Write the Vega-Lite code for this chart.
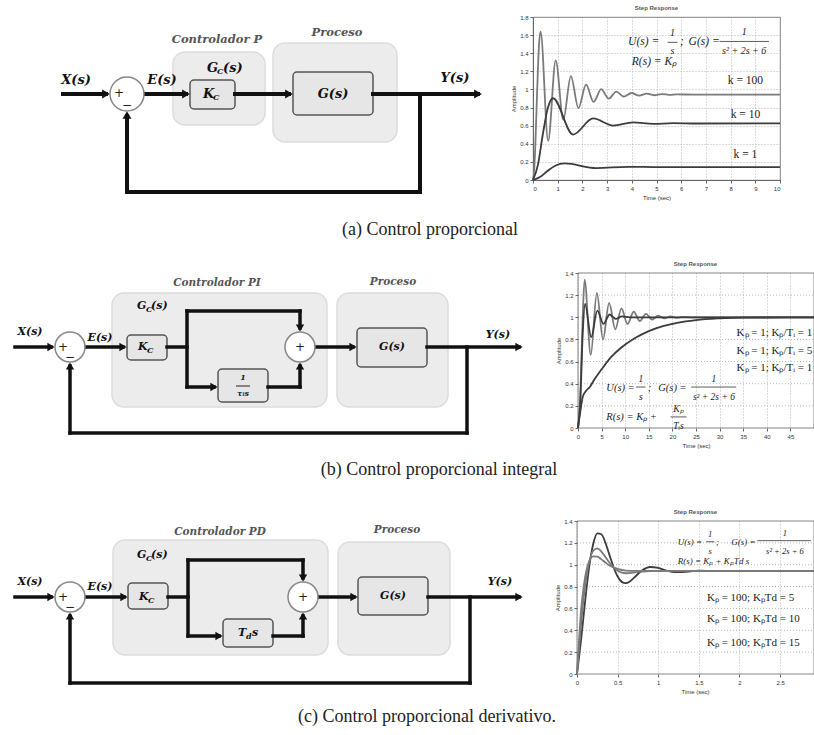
{
  "$schema": "https://vega.github.io/schema/vega-lite/v6.json",
  "padding": 0,
  "background": "white",
  "columns": 2,
  "spacing": {"row": 93, "column": 0},
  "bounds": "flush",
  "config": {
    "view": {"stroke": "#666", "strokeWidth": 0.8},
    "axis": {"labelFontSize": 6, "labelColor": "#333", "titleFontSize": 6, "titleFontWeight": "normal", "titleColor": "#333", "gridDash": [1, 2], "gridColor": "#999", "gridOpacity": 0.7, "domainColor": "#666", "tickColor": "#666", "tickSize": 3, "labelPadding": 2, "titlePadding": 3},
    "title": {"fontSize": 6, "fontWeight": "bold", "color": "#555", "offset": 3}
  },
  "datasets": {
    "diagram": [
      {"el": "pad", "row": "a", "x": 1, "y": 0.5, "x2": 1, "y2": 17},
      {"el": "grp", "row": "a", "x": 173, "y": 52, "x2": 265, "y2": 125},
      {"el": "grp", "row": "a", "x": 273, "y": 43, "x2": 397, "y2": 142},
      {"el": "grp", "row": "b", "x": 112, "y": 293, "x2": 327, "y2": 407},
      {"el": "grp", "row": "b", "x": 337, "y": 293, "x2": 448, "y2": 407},
      {"el": "grp", "row": "c", "x": 113, "y": 540, "x2": 328, "y2": 655},
      {"el": "grp", "row": "c", "x": 338, "y": 542, "x2": 450, "y2": 655},
      {"el": "blk", "row": "a", "x": 190, "y": 80, "x2": 235, "y2": 109},
      {"el": "blk", "row": "a", "x": 293, "y": 72, "x2": 373, "y2": 115},
      {"el": "blk", "row": "b", "x": 127, "y": 335, "x2": 167, "y2": 360},
      {"el": "blk", "row": "b", "x": 218, "y": 369, "x2": 268, "y2": 402},
      {"el": "blk", "row": "b", "x": 357, "y": 328, "x2": 427, "y2": 367},
      {"el": "blk", "row": "c", "x": 128, "y": 583, "x2": 168, "y2": 609},
      {"el": "blk", "row": "c", "x": 223, "y": 619, "x2": 273, "y2": 647},
      {"el": "blk", "row": "c", "x": 358, "y": 577, "x2": 428, "y2": 615},
      {"el": "wire", "row": "a", "x": 63, "y": 94, "x2": 106, "y2": 94},
      {"el": "wire", "row": "a", "x": 144, "y": 94, "x2": 186, "y2": 94},
      {"el": "wire", "row": "a", "x": 235, "y": 94, "x2": 289, "y2": 94},
      {"el": "wire", "row": "a", "x": 373, "y": 94, "x2": 478, "y2": 94},
      {"el": "wire", "row": "a", "x": 420, "y": 94, "x2": 420, "y2": 192},
      {"el": "wire", "row": "a", "x": 127, "y": 192, "x2": 420, "y2": 192},
      {"el": "wire", "row": "a", "x": 127, "y": 192, "x2": 127, "y2": 116},
      {"el": "wire", "row": "b", "x": 15, "y": 347, "x2": 51, "y2": 347},
      {"el": "wire", "row": "b", "x": 85, "y": 347, "x2": 123, "y2": 347},
      {"el": "wire", "row": "b", "x": 167, "y": 347, "x2": 187, "y2": 347},
      {"el": "wire", "row": "b", "x": 187, "y": 311, "x2": 187, "y2": 387},
      {"el": "wire", "row": "b", "x": 187, "y": 311, "x2": 300, "y2": 311},
      {"el": "wire", "row": "b", "x": 300, "y": 311, "x2": 300, "y2": 328},
      {"el": "wire", "row": "b", "x": 187, "y": 387, "x2": 214, "y2": 387},
      {"el": "wire", "row": "b", "x": 268, "y": 387, "x2": 300, "y2": 387},
      {"el": "wire", "row": "b", "x": 300, "y": 387, "x2": 300, "y2": 366},
      {"el": "wire", "row": "b", "x": 315, "y": 347, "x2": 353, "y2": 347},
      {"el": "wire", "row": "b", "x": 427, "y": 347, "x2": 519, "y2": 347},
      {"el": "wire", "row": "b", "x": 467, "y": 347, "x2": 467, "y2": 433},
      {"el": "wire", "row": "b", "x": 70, "y": 433, "x2": 467, "y2": 433},
      {"el": "wire", "row": "b", "x": 70, "y": 433, "x2": 70, "y2": 366},
      {"el": "frac", "row": "b", "x": 236, "y": 386, "x2": 250, "y2": 386},
      {"el": "wire", "row": "c", "x": 15, "y": 597, "x2": 51, "y2": 597},
      {"el": "wire", "row": "c", "x": 85, "y": 597, "x2": 124, "y2": 597},
      {"el": "wire", "row": "c", "x": 168, "y": 597, "x2": 188, "y2": 597},
      {"el": "wire", "row": "c", "x": 188, "y": 560, "x2": 188, "y2": 636},
      {"el": "wire", "row": "c", "x": 188, "y": 560, "x2": 303, "y2": 560},
      {"el": "wire", "row": "c", "x": 303, "y": 560, "x2": 303, "y2": 578},
      {"el": "wire", "row": "c", "x": 188, "y": 636, "x2": 219, "y2": 636},
      {"el": "wire", "row": "c", "x": 273, "y": 636, "x2": 303, "y2": 636},
      {"el": "wire", "row": "c", "x": 303, "y": 636, "x2": 303, "y2": 616},
      {"el": "wire", "row": "c", "x": 318, "y": 597, "x2": 354, "y2": 597},
      {"el": "wire", "row": "c", "x": 428, "y": 597, "x2": 519, "y2": 597},
      {"el": "wire", "row": "c", "x": 470, "y": 597, "x2": 470, "y2": 683},
      {"el": "wire", "row": "c", "x": 70, "y": 683, "x2": 470, "y2": 683},
      {"el": "wire", "row": "c", "x": 70, "y": 683, "x2": 70, "y2": 616},
      {"el": "arr", "row": "a", "dir": "right", "x": 106, "y": 94},
      {"el": "arr", "row": "a", "dir": "right", "x": 186, "y": 94},
      {"el": "arr", "row": "a", "dir": "right", "x": 289, "y": 94},
      {"el": "arr", "row": "a", "dir": "right", "x": 478, "y": 94},
      {"el": "arr", "row": "a", "dir": "up", "x": 127, "y": 115},
      {"el": "arr", "row": "b", "dir": "right", "x": 51, "y": 347},
      {"el": "arr", "row": "b", "dir": "right", "x": 123, "y": 347},
      {"el": "arr", "row": "b", "dir": "down", "x": 300, "y": 328},
      {"el": "arr", "row": "b", "dir": "right", "x": 214, "y": 387},
      {"el": "arr", "row": "b", "dir": "up", "x": 300, "y": 366},
      {"el": "arr", "row": "b", "dir": "right", "x": 353, "y": 347},
      {"el": "arr", "row": "b", "dir": "right", "x": 519, "y": 347},
      {"el": "arr", "row": "b", "dir": "up", "x": 70, "y": 366},
      {"el": "arr", "row": "c", "dir": "right", "x": 51, "y": 597},
      {"el": "arr", "row": "c", "dir": "right", "x": 124, "y": 597},
      {"el": "arr", "row": "c", "dir": "down", "x": 303, "y": 578},
      {"el": "arr", "row": "c", "dir": "right", "x": 219, "y": 636},
      {"el": "arr", "row": "c", "dir": "up", "x": 303, "y": 616},
      {"el": "arr", "row": "c", "dir": "right", "x": 354, "y": 597},
      {"el": "arr", "row": "c", "dir": "right", "x": 519, "y": 597},
      {"el": "arr", "row": "c", "dir": "up", "x": 70, "y": 616},
      {"el": "sum", "row": "a", "x": 127, "y": 94},
      {"el": "sum", "row": "b", "x": 70, "y": 347},
      {"el": "sum", "row": "b", "x": 300, "y": 347},
      {"el": "sum", "row": "c", "x": 70, "y": 597},
      {"el": "sum", "row": "c", "x": 303, "y": 597},
      {"el": "lab", "role": "v", "row": "a", "x": 76, "y": 80, "label": "X(s)"},
      {"el": "lab", "role": "v", "row": "a", "x": 162, "y": 80, "label": "E(s)"},
      {"el": "lab", "role": "v", "row": "a", "x": 455, "y": 78, "label": "Y(s)"},
      {"el": "lab", "role": "v", "row": "a", "x": 333, "y": 94, "label": "G(s)"},
      {"el": "lab", "role": "vl", "row": "a", "x": 203, "y": 94, "label": "K"},
      {"el": "lab", "role": "sub", "row": "a", "x": 213, "y": 98, "label": "C"},
      {"el": "lab", "role": "vl", "row": "a", "x": 207, "y": 68, "label": "G"},
      {"el": "lab", "role": "sub", "row": "a", "x": 217, "y": 72, "label": "C"},
      {"el": "lab", "role": "vl", "row": "a", "x": 223, "y": 68, "label": "(s)"},
      {"el": "lab", "role": "t", "row": "a", "x": 217, "y": 40, "label": "Controlador P"},
      {"el": "lab", "role": "t", "row": "a", "x": 337, "y": 33, "label": "Proceso"},
      {"el": "lab", "role": "sg", "row": "a", "x": 119, "y": 93, "label": "+"},
      {"el": "lab", "role": "sg", "row": "a", "x": 127, "y": 105, "label": "−"},
      {"el": "lab", "role": "cap", "row": "a", "x": 430, "y": 230, "label": "(a) Control proporcional"},
      {"el": "lab", "role": "v", "row": "b", "x": 30, "y": 332, "label": "X(s)"},
      {"el": "lab", "role": "v", "row": "b", "x": 100, "y": 338, "label": "E(s)"},
      {"el": "lab", "role": "v", "row": "b", "x": 498, "y": 335, "label": "Y(s)"},
      {"el": "lab", "role": "v", "row": "b", "x": 392, "y": 347, "label": "G(s)"},
      {"el": "lab", "role": "vl", "row": "b", "x": 138, "y": 347, "label": "K"},
      {"el": "lab", "role": "sub", "row": "b", "x": 147, "y": 351, "label": "C"},
      {"el": "lab", "role": "vl", "row": "b", "x": 137, "y": 306, "label": "G"},
      {"el": "lab", "role": "sub", "row": "b", "x": 146, "y": 310, "label": "C"},
      {"el": "lab", "role": "vl", "row": "b", "x": 151, "y": 306, "label": "(s)"},
      {"el": "lab", "role": "t", "row": "b", "x": 217, "y": 283, "label": "Controlador PI"},
      {"el": "lab", "role": "t", "row": "b", "x": 393, "y": 282, "label": "Proceso"},
      {"el": "lab", "role": "sg", "row": "b", "x": 63, "y": 347, "label": "+"},
      {"el": "lab", "role": "sg", "row": "b", "x": 70, "y": 357, "label": "−"},
      {"el": "lab", "role": "sg", "row": "b", "x": 300, "y": 347, "label": "+"},
      {"el": "lab", "role": "fr", "row": "b", "x": 243, "y": 378, "label": "1"},
      {"el": "lab", "role": "fr", "row": "b", "x": 243, "y": 394, "label": "τᵢs"},
      {"el": "lab", "role": "cap", "row": "b", "x": 439, "y": 470, "label": "(b) Control proporcional integral"},
      {"el": "lab", "role": "v", "row": "c", "x": 30, "y": 582, "label": "X(s)"},
      {"el": "lab", "role": "v", "row": "c", "x": 100, "y": 587, "label": "E(s)"},
      {"el": "lab", "role": "v", "row": "c", "x": 500, "y": 582, "label": "Y(s)"},
      {"el": "lab", "role": "v", "row": "c", "x": 393, "y": 596, "label": "G(s)"},
      {"el": "lab", "role": "vl", "row": "c", "x": 139, "y": 597, "label": "K"},
      {"el": "lab", "role": "sub", "row": "c", "x": 148, "y": 601, "label": "C"},
      {"el": "lab", "role": "vl", "row": "c", "x": 137, "y": 555, "label": "G"},
      {"el": "lab", "role": "sub", "row": "c", "x": 146, "y": 559, "label": "C"},
      {"el": "lab", "role": "vl", "row": "c", "x": 151, "y": 555, "label": "(s)"},
      {"el": "lab", "role": "t", "row": "c", "x": 220, "y": 532, "label": "Controlador PD"},
      {"el": "lab", "role": "t", "row": "c", "x": 397, "y": 530, "label": "Proceso"},
      {"el": "lab", "role": "sg", "row": "c", "x": 63, "y": 597, "label": "+"},
      {"el": "lab", "role": "sg", "row": "c", "x": 70, "y": 607, "label": "−"},
      {"el": "lab", "role": "sg", "row": "c", "x": 303, "y": 597, "label": "+"},
      {"el": "lab", "role": "vl", "row": "c", "x": 238, "y": 633, "label": "T"},
      {"el": "lab", "role": "sub", "row": "c", "x": 246, "y": 637, "label": "d"},
      {"el": "lab", "role": "vl", "row": "c", "x": 252, "y": 633, "label": "s"},
      {"el": "lab", "role": "cap", "row": "c", "x": 427, "y": 717, "label": "(c) Control proporcional derivativo."}
    ],
    "stepA": [
      {"s": "k=100", "t": 0, "v": 0}, {"s": "k=100", "t": 0.05, "v": 0.118}, {"s": "k=100", "t": 0.1, "v": 0.428}, {"s": "k=100", "t": 0.15, "v": 0.837}, {"s": "k=100", "t": 0.2, "v": 1.232}, {"s": "k=100", "t": 0.25, "v": 1.518}, {"s": "k=100", "t": 0.307, "v": 1.638}, {"s": "k=100", "t": 0.613, "v": 0.432}, {"s": "k=100", "t": 0.92, "v": 1.32}, {"s": "k=100", "t": 1.226, "v": 0.667}, {"s": "k=100", "t": 1.533, "v": 1.147}, {"s": "k=100", "t": 1.84, "v": 0.794}, {"s": "k=100", "t": 2.146, "v": 1.054}, {"s": "k=100", "t": 2.453, "v": 0.862}, {"s": "k=100", "t": 2.76, "v": 1.003}, {"s": "k=100", "t": 3.066, "v": 0.899}, {"s": "k=100", "t": 3.373, "v": 0.976}, {"s": "k=100", "t": 3.68, "v": 0.92}, {"s": "k=100", "t": 3.986, "v": 0.961}, {"s": "k=100", "t": 4.293, "v": 0.931}, {"s": "k=100", "t": 4.6, "v": 0.953}, {"s": "k=100", "t": 4.906, "v": 0.936}, {"s": "k=100", "t": 5.213, "v": 0.949}, {"s": "k=100", "t": 5.52, "v": 0.94}, {"s": "k=100", "t": 5.83, "v": 0.945}, {"s": "k=100", "t": 6.5, "v": 0.943}, {"s": "k=100", "t": 10, "v": 0.943},
      {"s": "k=10", "t": 0, "v": 0}, {"s": "k=10", "t": 0.2, "v": 0.167}, {"s": "k=10", "t": 0.4, "v": 0.508}, {"s": "k=10", "t": 0.6, "v": 0.795}, {"s": "k=10", "t": 0.811, "v": 0.903}, {"s": "k=10", "t": 1.622, "v": 0.502}, {"s": "k=10", "t": 2.434, "v": 0.68}, {"s": "k=10", "t": 3.245, "v": 0.601}, {"s": "k=10", "t": 4.056, "v": 0.636}, {"s": "k=10", "t": 4.867, "v": 0.62}, {"s": "k=10", "t": 5.678, "v": 0.627}, {"s": "k=10", "t": 6.49, "v": 0.624}, {"s": "k=10", "t": 10, "v": 0.625},
      {"s": "k=1", "t": 0, "v": 0}, {"s": "k=1", "t": 0.3, "v": 0.035}, {"s": "k=1", "t": 0.6, "v": 0.103}, {"s": "k=1", "t": 0.9, "v": 0.158}, {"s": "k=1", "t": 1.283, "v": 0.1825}, {"s": "k=1", "t": 2.565, "v": 0.132}, {"s": "k=1", "t": 3.848, "v": 0.146}, {"s": "k=1", "t": 5.13, "v": 0.142}, {"s": "k=1", "t": 6.41, "v": 0.143}, {"s": "k=1", "t": 10, "v": 0.143}
    ],
    "notesA": [
      {"role": "fL", "t": 3.85, "v": 1.52, "label": "U(s) ="},
      {"role": "fL", "t": 5.95, "v": 1.52, "label": ";"},
      {"role": "fL", "t": 6.3, "v": 1.52, "label": "G(s) ="},
      {"role": "fL", "t": 4.0, "v": 1.3, "label": "R(s) = Kₚ"},
      {"role": "fC", "t": 5.65, "v": 1.62, "label": "1"},
      {"role": "fC", "t": 5.65, "v": 1.42, "label": "s"},
      {"role": "fC", "t": 8.55, "v": 1.63, "label": "1"},
      {"role": "fC", "t": 8.55, "v": 1.42, "label": "s² + 2s + 6"},
      {"role": "kC", "t": 8.6, "v": 1.09, "label": "k = 100"},
      {"role": "kC", "t": 8.6, "v": 0.72, "label": "k = 10"},
      {"role": "kC", "t": 8.6, "v": 0.28, "label": "k = 1"}
    ],
    "barsA": [
      {"t": 5.45, "t2": 5.85, "v": 1.52},
      {"t": 7.55, "t2": 9.55, "v": 1.53}
    ],
    "stepB": [
      {"s": "10", "t": 0, "v": 0}, {"s": "10", "t": 0.5, "v": 0.3}, {"s": "10", "t": 1.0, "v": 1.0}, {"s": "10", "t": 1.4, "v": 1.34}, {"s": "10", "t": 2.7, "v": 0.66}, {"s": "10", "t": 4.0, "v": 1.22}, {"s": "10", "t": 5.3, "v": 0.8}, {"s": "10", "t": 6.6, "v": 1.13}, {"s": "10", "t": 7.9, "v": 0.89}, {"s": "10", "t": 9.2, "v": 1.08}, {"s": "10", "t": 10.5, "v": 0.94}, {"s": "10", "t": 11.8, "v": 1.05}, {"s": "10", "t": 13.1, "v": 0.965}, {"s": "10", "t": 14.4, "v": 1.03}, {"s": "10", "t": 15.7, "v": 0.98}, {"s": "10", "t": 17.0, "v": 1.015}, {"s": "10", "t": 18.3, "v": 0.99}, {"s": "10", "t": 19.6, "v": 1.007}, {"s": "10", "t": 20.9, "v": 0.996}, {"s": "10", "t": 22.2, "v": 1.003}, {"s": "10", "t": 24, "v": 1.0}, {"s": "10", "t": 50, "v": 1.0},
      {"s": "5", "t": 0, "v": 0}, {"s": "5", "t": 0.5, "v": 0.25}, {"s": "5", "t": 1.0, "v": 0.85}, {"s": "5", "t": 1.5, "v": 1.12}, {"s": "5", "t": 2.8, "v": 0.82}, {"s": "5", "t": 4.1, "v": 1.06}, {"s": "5", "t": 5.4, "v": 0.94}, {"s": "5", "t": 6.7, "v": 1.025}, {"s": "5", "t": 8.0, "v": 0.985}, {"s": "5", "t": 9.3, "v": 1.008}, {"s": "5", "t": 11, "v": 1.0}, {"s": "5", "t": 50, "v": 1.0},
      {"s": "1", "t": 0, "v": 0}, {"s": "1", "t": 0.4, "v": 0.12}, {"s": "1", "t": 1.0, "v": 0.28}, {"s": "1", "t": 1.6, "v": 0.33}, {"s": "1", "t": 2.5, "v": 0.37}, {"s": "1", "t": 3.5, "v": 0.44}, {"s": "1", "t": 5, "v": 0.53}, {"s": "1", "t": 7, "v": 0.64}, {"s": "1", "t": 9, "v": 0.72}, {"s": "1", "t": 12, "v": 0.81}, {"s": "1", "t": 15, "v": 0.875}, {"s": "1", "t": 18, "v": 0.92}, {"s": "1", "t": 21, "v": 0.95}, {"s": "1", "t": 25, "v": 0.975}, {"s": "1", "t": 30, "v": 0.99}, {"s": "1", "t": 35, "v": 0.997}, {"s": "1", "t": 50, "v": 1.0}
    ],
    "frameB": [{"t": 0, "t2": 50, "v": 0, "v2": 1.4}],
    "gridB": [
      {"t": 0, "t2": 50, "v": 0.2}, {"t": 0, "t2": 50, "v": 0.4}, {"t": 0, "t2": 50, "v": 0.6}, {"t": 0, "t2": 50, "v": 0.8}, {"t": 0, "t2": 50, "v": 1.0}, {"t": 0, "t2": 50, "v": 1.2}
    ],
    "notesB": [
      {"role": "fL", "t": 6.0, "v": 0.36, "label": "U(s) ="},
      {"role": "fL", "t": 14.8, "v": 0.36, "label": ";"},
      {"role": "fL", "t": 17.0, "v": 0.36, "label": "G(s) ="},
      {"role": "fL", "t": 6.0, "v": 0.1, "label": "R(s) = Kₚ +"},
      {"role": "fC", "t": 13.3, "v": 0.44, "label": "1"},
      {"role": "fC", "t": 13.3, "v": 0.28, "label": "s"},
      {"role": "fC", "t": 28.8, "v": 0.44, "label": "1"},
      {"role": "fC", "t": 28.8, "v": 0.28, "label": "s² + 2s + 6"},
      {"role": "fC", "t": 21.3, "v": 0.17, "label": "Kₚ"},
      {"role": "fC", "t": 21.3, "v": 0.02, "label": "Tᵢs"},
      {"role": "kL", "t": 33.6, "v": 0.86, "label": "Kₚ = 1; Kₚ/Tᵢ = 1"},
      {"role": "kL", "t": 33.6, "v": 0.7, "label": "Kₚ = 1; Kₚ/Tᵢ = 5"},
      {"role": "kL", "t": 33.6, "v": 0.54, "label": "Kₚ = 1; Kₚ/Tᵢ = 1"}
    ],
    "barsB": [
      {"t": 12.3, "t2": 14.3, "v": 0.37},
      {"t": 24, "t2": 33.5, "v": 0.37},
      {"t": 19.6, "t2": 23, "v": 0.1}
    ],
    "stepC": [
      {"s": "5", "t": 0, "v": 0}, {"s": "5", "t": 0.05, "v": 0.311}, {"s": "5", "t": 0.1, "v": 0.667}, {"s": "5", "t": 0.15, "v": 0.98}, {"s": "5", "t": 0.2, "v": 1.192}, {"s": "5", "t": 0.25, "v": 1.287}, {"s": "5", "t": 0.3, "v": 1.279}, {"s": "5", "t": 0.35, "v": 1.2}, {"s": "5", "t": 0.4, "v": 1.088}, {"s": "5", "t": 0.45, "v": 0.977}, {"s": "5", "t": 0.5, "v": 0.892}, {"s": "5", "t": 0.55, "v": 0.843}, {"s": "5", "t": 0.6, "v": 0.831}, {"s": "5", "t": 0.65, "v": 0.847}, {"s": "5", "t": 0.7, "v": 0.879}, {"s": "5", "t": 0.8, "v": 0.947}, {"s": "5", "t": 0.9, "v": 0.979}, {"s": "5", "t": 1.0, "v": 0.97}, {"s": "5", "t": 1.1, "v": 0.947}, {"s": "5", "t": 1.2, "v": 0.933}, {"s": "5", "t": 1.3, "v": 0.933}, {"s": "5", "t": 1.5, "v": 0.946}, {"s": "5", "t": 1.7, "v": 0.943}, {"s": "5", "t": 2.918, "v": 0.943},
      {"s": "10", "t": 0, "v": 0}, {"s": "10", "t": 0.05, "v": 0.461}, {"s": "10", "t": 0.1, "v": 0.808}, {"s": "10", "t": 0.15, "v": 1.025}, {"s": "10", "t": 0.2, "v": 1.128}, {"s": "10", "t": 0.25, "v": 1.149}, {"s": "10", "t": 0.3, "v": 1.12}, {"s": "10", "t": 0.35, "v": 1.07}, {"s": "10", "t": 0.4, "v": 1.018}, {"s": "10", "t": 0.5, "v": 0.945}, {"s": "10", "t": 0.6, "v": 0.922}, {"s": "10", "t": 0.7, "v": 0.927}, {"s": "10", "t": 0.8, "v": 0.938}, {"s": "10", "t": 1.0, "v": 0.943}, {"s": "10", "t": 2.918, "v": 0.943},
      {"s": "15", "t": 0, "v": 0}, {"s": "15", "t": 0.05, "v": 0.577}, {"s": "15", "t": 0.1, "v": 0.888}, {"s": "15", "t": 0.15, "v": 1.031}, {"s": "15", "t": 0.2, "v": 1.076}, {"s": "15", "t": 0.25, "v": 1.073}, {"s": "15", "t": 0.3, "v": 1.049}, {"s": "15", "t": 0.35, "v": 1.02}, {"s": "15", "t": 0.4, "v": 0.994}, {"s": "15", "t": 0.5, "v": 0.961}, {"s": "15", "t": 0.6, "v": 0.946}, {"s": "15", "t": 0.7, "v": 0.944}, {"s": "15", "t": 2.918, "v": 0.943}
    ],
    "frameC": [{"t": 0, "t2": 2.918, "v": 0, "v2": 1.4}],
    "gridC": [
      {"t": 0, "t2": 2.918, "v": 0.2}, {"t": 0, "t2": 2.918, "v": 0.4}, {"t": 0, "t2": 2.918, "v": 0.6}, {"t": 0, "t2": 2.918, "v": 0.8}, {"t": 0, "t2": 2.918, "v": 1.0}, {"t": 0, "t2": 2.918, "v": 1.2}
    ],
    "notesC": [
      {"role": "fL", "t": 1.24, "v": 1.21, "label": "U(s) ="},
      {"role": "fL", "t": 1.71, "v": 1.21, "label": ";"},
      {"role": "fL", "t": 1.9, "v": 1.21, "label": "G(s) ="},
      {"role": "fL", "t": 1.24, "v": 1.03, "label": "R(s) = Kₚ + KₚTd s"},
      {"role": "fC", "t": 1.64, "v": 1.28, "label": "1"},
      {"role": "fC", "t": 1.64, "v": 1.13, "label": "s"},
      {"role": "fC", "t": 2.56, "v": 1.29, "label": "1"},
      {"role": "fC", "t": 2.56, "v": 1.13, "label": "s² + 2s + 6"},
      {"role": "kL", "t": 1.6, "v": 0.7, "label": "Kₚ = 100; KₚTd = 5"},
      {"role": "kL", "t": 1.6, "v": 0.5, "label": "Kₚ = 100; KₚTd = 10"},
      {"role": "kL", "t": 1.6, "v": 0.28, "label": "Kₚ = 100; KₚTd = 15"}
    ],
    "barsC": [
      {"t": 1.59, "t2": 1.69, "v": 1.21},
      {"t": 2.22, "t2": 2.88, "v": 1.22}
    ]
  },
  "concat": [
    {
      "width": 533,
      "height": 163,
      "view": {"stroke": null},
      "data": {"name": "diagram"},
      "transform": [{"filter": "datum.row === 'a'"}],
      "encoding": {
        "x": {"field": "x", "type": "quantitative", "scale": {"domain": [0, 533], "nice": false, "zero": false}, "axis": null},
        "y": {"field": "y", "type": "quantitative", "scale": {"domain": [17, 180], "nice": false, "zero": false, "reverse": true}, "axis": null}
      },
      "layer": [
        {"transform": [{"filter": "datum.el === 'pad'"}], "mark": {"type": "rule", "opacity": 0, "strokeWidth": 1}, "encoding": {"x2": {"field": "x2"}, "y2": {"field": "y2"}}},
        {"transform": [{"filter": "datum.el === 'grp'"}], "mark": {"type": "rect", "fill": "#ececec", "stroke": "#dcdcdc", "strokeWidth": 1.5, "cornerRadius": 12}, "encoding": {"x2": {"field": "x2"}, "y2": {"field": "y2"}}},
        {"transform": [{"filter": "datum.el === 'blk'"}], "mark": {"type": "rect", "fill": "#e6e6e6", "stroke": "#555", "strokeWidth": 1.5, "cornerRadius": 4}, "encoding": {"x2": {"field": "x2"}, "y2": {"field": "y2"}}},
        {"transform": [{"filter": "datum.el === 'wire'"}], "mark": {"type": "rule", "color": "#111", "strokeWidth": 4, "strokeCap": "square"}, "encoding": {"x2": {"field": "x2"}, "y2": {"field": "y2"}}},
        {"transform": [{"filter": "datum.el === 'arr'"}], "mark": {"type": "point", "filled": true, "color": "#111", "opacity": 1, "size": 80}, "encoding": {"shape": {"field": "dir", "type": "nominal", "scale": {"domain": ["right", "up", "down"], "range": ["triangle-right", "triangle-up", "triangle-down"]}, "legend": null}}},
        {"transform": [{"filter": "datum.el === 'sum'"}], "mark": {"type": "point", "shape": "circle", "filled": true, "fill": "#fff", "stroke": "#888", "strokeWidth": 1.5, "opacity": 1, "size": 1156}},
        {"transform": [{"filter": "datum.role === 'v'"}], "mark": {"type": "text", "font": "DejaVu Serif", "fontStyle": "italic", "fontWeight": "bold", "fontSize": 13, "color": "#111", "align": "center", "baseline": "middle"}, "encoding": {"text": {"field": "label"}}},
        {"transform": [{"filter": "datum.role === 'vl'"}], "mark": {"type": "text", "font": "DejaVu Serif", "fontStyle": "italic", "fontWeight": "bold", "fontSize": 13, "color": "#111", "align": "left", "baseline": "middle"}, "encoding": {"text": {"field": "label"}}},
        {"transform": [{"filter": "datum.role === 'sub'"}], "mark": {"type": "text", "font": "DejaVu Serif", "fontStyle": "italic", "fontWeight": "bold", "fontSize": 8, "color": "#111", "align": "left", "baseline": "middle"}, "encoding": {"text": {"field": "label"}}},
        {"transform": [{"filter": "datum.role === 't'"}], "mark": {"type": "text", "font": "DejaVu Serif", "fontStyle": "italic", "fontWeight": "bold", "fontSize": 11.5, "color": "#555", "align": "center", "baseline": "middle"}, "encoding": {"text": {"field": "label"}}},
        {"transform": [{"filter": "datum.role === 'sg'"}], "mark": {"type": "text", "font": "DejaVu Sans", "fontSize": 12, "color": "#222", "align": "center", "baseline": "middle"}, "encoding": {"text": {"field": "label"}}},
        {"transform": [{"filter": "datum.role === 'cap'"}], "mark": {"type": "text", "font": "Liberation Serif", "fontSize": 18, "color": "#222", "align": "center", "baseline": "middle"}, "encoding": {"text": {"field": "label"}}}
      ]
    },
    {
      "width": 247,
      "height": 163,
      "title": "Step Response",
      "encoding": {
        "x": {"field": "t", "type": "quantitative", "scale": {"domain": [0, 10], "nice": false, "zero": false}, "axis": {"values": [0, 1, 2, 3, 4, 5, 6, 7, 8, 9, 10], "format": "~r", "title": "Time (sec)"}},
        "y": {"field": "v", "type": "quantitative", "scale": {"domain": [0, 1.8], "nice": false}, "axis": {"values": [0, 0.2, 0.4, 0.6, 0.8, 1, 1.2, 1.4, 1.6, 1.8], "format": "~r", "title": "Amplitude"}}
      },
      "layer": [
        {"data": {"name": "stepA"}, "mark": {"type": "line", "interpolate": "monotone", "strokeWidth": 1.8}, "encoding": {"color": {"field": "s", "type": "nominal", "scale": {"domain": ["k=100", "k=10", "k=1"], "range": ["#7a7a7a", "#3c3c3c", "#3c3c3c"]}, "legend": null}}},
        {"data": {"name": "notesA"}, "transform": [{"filter": "datum.role === 'fL'"}], "mark": {"type": "text", "font": "Liberation Serif", "fontStyle": "italic", "fontSize": 11.5, "color": "#222", "align": "left", "baseline": "middle"}, "encoding": {"text": {"field": "label"}}},
        {"data": {"name": "notesA"}, "transform": [{"filter": "datum.role === 'fC'"}], "mark": {"type": "text", "font": "Liberation Serif", "fontStyle": "italic", "fontSize": 10, "color": "#222", "align": "center", "baseline": "middle"}, "encoding": {"text": {"field": "label"}}},
        {"data": {"name": "notesA"}, "transform": [{"filter": "datum.role === 'kC'"}], "mark": {"type": "text", "font": "Liberation Serif", "fontSize": 11.5, "color": "#222", "align": "center", "baseline": "middle"}, "encoding": {"text": {"field": "label"}}},
        {"data": {"name": "barsA"}, "mark": {"type": "rule", "color": "#333", "strokeWidth": 0.8}, "encoding": {"x2": {"field": "t2"}}}
      ]
    },
    {
      "width": 533,
      "height": 155,
      "view": {"stroke": null},
      "data": {"name": "diagram"},
      "transform": [{"filter": "datum.row === 'b'"}],
      "encoding": {
        "x": {"field": "x", "type": "quantitative", "scale": {"domain": [0, 533], "nice": false, "zero": false}, "axis": null},
        "y": {"field": "y", "type": "quantitative", "scale": {"domain": [273, 428], "nice": false, "zero": false, "reverse": true}, "axis": null}
      },
      "layer": [
        {"transform": [{"filter": "datum.el === 'grp'"}], "mark": {"type": "rect", "fill": "#ececec", "stroke": "#dcdcdc", "strokeWidth": 1.5, "cornerRadius": 12}, "encoding": {"x2": {"field": "x2"}, "y2": {"field": "y2"}}},
        {"transform": [{"filter": "datum.el === 'blk'"}], "mark": {"type": "rect", "fill": "#e6e6e6", "stroke": "#555", "strokeWidth": 1.5, "cornerRadius": 4}, "encoding": {"x2": {"field": "x2"}, "y2": {"field": "y2"}}},
        {"transform": [{"filter": "datum.el === 'wire'"}], "mark": {"type": "rule", "color": "#111", "strokeWidth": 3.5, "strokeCap": "square"}, "encoding": {"x2": {"field": "x2"}, "y2": {"field": "y2"}}},
        {"transform": [{"filter": "datum.el === 'frac'"}], "mark": {"type": "rule", "color": "#222", "strokeWidth": 1}, "encoding": {"x2": {"field": "x2"}, "y2": {"field": "y2"}}},
        {"transform": [{"filter": "datum.el === 'arr'"}], "mark": {"type": "point", "filled": true, "color": "#111", "opacity": 1, "size": 70}, "encoding": {"shape": {"field": "dir", "type": "nominal", "scale": {"domain": ["right", "up", "down"], "range": ["triangle-right", "triangle-up", "triangle-down"]}, "legend": null}}},
        {"transform": [{"filter": "datum.el === 'sum'"}], "mark": {"type": "point", "shape": "circle", "filled": true, "fill": "#fff", "stroke": "#888", "strokeWidth": 1.5, "opacity": 1, "size": 900}},
        {"transform": [{"filter": "datum.role === 'v'"}], "mark": {"type": "text", "font": "DejaVu Serif", "fontStyle": "italic", "fontWeight": "bold", "fontSize": 11, "color": "#111", "align": "center", "baseline": "middle"}, "encoding": {"text": {"field": "label"}}},
        {"transform": [{"filter": "datum.role === 'vl'"}], "mark": {"type": "text", "font": "DejaVu Serif", "fontStyle": "italic", "fontWeight": "bold", "fontSize": 11, "color": "#111", "align": "left", "baseline": "middle"}, "encoding": {"text": {"field": "label"}}},
        {"transform": [{"filter": "datum.role === 'sub'"}], "mark": {"type": "text", "font": "DejaVu Serif", "fontStyle": "italic", "fontWeight": "bold", "fontSize": 8, "color": "#111", "align": "left", "baseline": "middle"}, "encoding": {"text": {"field": "label"}}},
        {"transform": [{"filter": "datum.role === 't'"}], "mark": {"type": "text", "font": "DejaVu Serif", "fontStyle": "italic", "fontWeight": "bold", "fontSize": 10.5, "color": "#555", "align": "center", "baseline": "middle"}, "encoding": {"text": {"field": "label"}}},
        {"transform": [{"filter": "datum.role === 'sg'"}], "mark": {"type": "text", "font": "DejaVu Sans", "fontSize": 12, "color": "#222", "align": "center", "baseline": "middle"}, "encoding": {"text": {"field": "label"}}},
        {"transform": [{"filter": "datum.role === 'fr'"}], "mark": {"type": "text", "font": "DejaVu Serif", "fontStyle": "italic", "fontWeight": "bold", "fontSize": 8, "color": "#222", "align": "center", "baseline": "middle"}, "encoding": {"text": {"field": "label"}}},
        {"transform": [{"filter": "datum.role === 'cap'"}], "mark": {"type": "text", "font": "Liberation Serif", "fontSize": 18, "color": "#222", "align": "center", "baseline": "middle"}, "encoding": {"text": {"field": "label"}}}
      ]
    },
    {
      "width": 281,
      "height": 155,
      "view": {"stroke": null},
      "title": {"text": "Step Response", "dx": 22},
      "encoding": {
        "x": {"field": "t", "type": "quantitative", "scale": {"domain": [-9.53, 50], "nice": false, "zero": false}, "axis": {"values": [0, 5, 10, 15, 20, 25, 30, 35, 40, 45], "format": "~r", "title": "Time (sec)", "domain": false, "titleX": 163}},
        "y": {"field": "v", "type": "quantitative", "scale": {"domain": [0, 1.4], "nice": false}, "axis": {"values": [0, 0.2, 0.4, 0.6, 0.8, 1, 1.2, 1.4], "format": "~r", "title": "Amplitude", "offset": -45, "grid": false, "domain": false}}
      },
      "layer": [
        {"data": {"name": "gridB"}, "mark": {"type": "rule", "strokeDash": [1, 2], "color": "#999", "opacity": 0.7, "strokeWidth": 1}, "encoding": {"x2": {"field": "t2"}}},
        {"data": {"name": "frameB"}, "mark": {"type": "rect", "filled": false, "color": "#666", "strokeWidth": 0.8}, "encoding": {"x2": {"field": "t2"}, "y2": {"field": "v2"}}},
        {"data": {"name": "stepB"}, "mark": {"type": "line", "interpolate": "monotone", "strokeWidth": 1.8}, "encoding": {"color": {"field": "s", "type": "nominal", "scale": {"domain": ["10", "5", "1"], "range": ["#8a8a8a", "#555", "#3c3c3c"]}, "legend": null}}},
        {"data": {"name": "notesB"}, "transform": [{"filter": "datum.role === 'fL'"}], "mark": {"type": "text", "font": "Liberation Serif", "fontStyle": "italic", "fontSize": 10.5, "color": "#222", "align": "left", "baseline": "middle"}, "encoding": {"text": {"field": "label"}}},
        {"data": {"name": "notesB"}, "transform": [{"filter": "datum.role === 'fC'"}], "mark": {"type": "text", "font": "Liberation Serif", "fontStyle": "italic", "fontSize": 9.5, "color": "#222", "align": "center", "baseline": "middle"}, "encoding": {"text": {"field": "label"}}},
        {"data": {"name": "notesB"}, "transform": [{"filter": "datum.role === 'kL'"}], "mark": {"type": "text", "font": "Liberation Serif", "fontSize": 11, "color": "#222", "align": "left", "baseline": "middle"}, "encoding": {"text": {"field": "label"}}},
        {"data": {"name": "barsB"}, "mark": {"type": "rule", "color": "#333", "strokeWidth": 0.8}, "encoding": {"x2": {"field": "t2"}}}
      ]
    },
    {
      "width": 533,
      "height": 153,
      "view": {"stroke": null},
      "data": {"name": "diagram"},
      "transform": [{"filter": "datum.row === 'c'"}],
      "encoding": {
        "x": {"field": "x", "type": "quantitative", "scale": {"domain": [0, 533], "nice": false, "zero": false}, "axis": null},
        "y": {"field": "y", "type": "quantitative", "scale": {"domain": [521, 674], "nice": false, "zero": false, "reverse": true}, "axis": null}
      },
      "layer": [
        {"transform": [{"filter": "datum.el === 'grp'"}], "mark": {"type": "rect", "fill": "#ececec", "stroke": "#dcdcdc", "strokeWidth": 1.5, "cornerRadius": 12}, "encoding": {"x2": {"field": "x2"}, "y2": {"field": "y2"}}},
        {"transform": [{"filter": "datum.el === 'blk'"}], "mark": {"type": "rect", "fill": "#e6e6e6", "stroke": "#555", "strokeWidth": 1.5, "cornerRadius": 4}, "encoding": {"x2": {"field": "x2"}, "y2": {"field": "y2"}}},
        {"transform": [{"filter": "datum.el === 'wire'"}], "mark": {"type": "rule", "color": "#111", "strokeWidth": 3.5, "strokeCap": "square"}, "encoding": {"x2": {"field": "x2"}, "y2": {"field": "y2"}}},
        {"transform": [{"filter": "datum.el === 'arr'"}], "mark": {"type": "point", "filled": true, "color": "#111", "opacity": 1, "size": 70}, "encoding": {"shape": {"field": "dir", "type": "nominal", "scale": {"domain": ["right", "up", "down"], "range": ["triangle-right", "triangle-up", "triangle-down"]}, "legend": null}}},
        {"transform": [{"filter": "datum.el === 'sum'"}], "mark": {"type": "point", "shape": "circle", "filled": true, "fill": "#fff", "stroke": "#888", "strokeWidth": 1.5, "opacity": 1, "size": 900}},
        {"transform": [{"filter": "datum.role === 'v'"}], "mark": {"type": "text", "font": "DejaVu Serif", "fontStyle": "italic", "fontWeight": "bold", "fontSize": 11, "color": "#111", "align": "center", "baseline": "middle"}, "encoding": {"text": {"field": "label"}}},
        {"transform": [{"filter": "datum.role === 'vl'"}], "mark": {"type": "text", "font": "DejaVu Serif", "fontStyle": "italic", "fontWeight": "bold", "fontSize": 11, "color": "#111", "align": "left", "baseline": "middle"}, "encoding": {"text": {"field": "label"}}},
        {"transform": [{"filter": "datum.role === 'sub'"}], "mark": {"type": "text", "font": "DejaVu Serif", "fontStyle": "italic", "fontWeight": "bold", "fontSize": 8, "color": "#111", "align": "left", "baseline": "middle"}, "encoding": {"text": {"field": "label"}}},
        {"transform": [{"filter": "datum.role === 't'"}], "mark": {"type": "text", "font": "DejaVu Serif", "fontStyle": "italic", "fontWeight": "bold", "fontSize": 10.5, "color": "#555", "align": "center", "baseline": "middle"}, "encoding": {"text": {"field": "label"}}},
        {"transform": [{"filter": "datum.role === 'sg'"}], "mark": {"type": "text", "font": "DejaVu Sans", "fontSize": 12, "color": "#222", "align": "center", "baseline": "middle"}, "encoding": {"text": {"field": "label"}}},
        {"transform": [{"filter": "datum.role === 'cap'"}], "mark": {"type": "text", "font": "Liberation Serif", "fontSize": 18, "color": "#222", "align": "center", "baseline": "middle"}, "encoding": {"text": {"field": "label"}}}
      ]
    },
    {
      "width": 281,
      "height": 153,
      "view": {"stroke": null},
      "title": {"text": "Step Response", "dx": 22},
      "encoding": {
        "x": {"field": "t", "type": "quantitative", "scale": {"domain": [-0.542, 2.918], "nice": false, "zero": false}, "axis": {"values": [0, 0.5, 1, 1.5, 2, 2.5], "format": "~r", "title": "Time (sec)", "domain": false, "titleX": 162}},
        "y": {"field": "v", "type": "quantitative", "scale": {"domain": [0, 1.4], "nice": false}, "axis": {"values": [0, 0.2, 0.4, 0.6, 0.8, 1, 1.2, 1.4], "format": "~r", "title": "Amplitude", "offset": -44, "grid": false, "domain": false}}
      },
      "layer": [
        {"data": {"name": "gridC"}, "mark": {"type": "rule", "strokeDash": [1, 2], "color": "#999", "opacity": 0.7, "strokeWidth": 1}, "encoding": {"x2": {"field": "t2"}}},
        {"data": {"name": "frameC"}, "mark": {"type": "rect", "filled": false, "color": "#666", "strokeWidth": 0.8}, "encoding": {"x2": {"field": "t2"}, "y2": {"field": "v2"}}},
        {"data": {"name": "stepC"}, "mark": {"type": "line", "interpolate": "monotone", "strokeWidth": 1.8}, "encoding": {"color": {"field": "s", "type": "nominal", "scale": {"domain": ["5", "10", "15"], "range": ["#555", "#666", "#777"]}, "legend": null}}},
        {"data": {"name": "notesC"}, "transform": [{"filter": "datum.role === 'fL'"}], "mark": {"type": "text", "font": "Liberation Serif", "fontStyle": "italic", "fontSize": 9, "color": "#222", "align": "left", "baseline": "middle"}, "encoding": {"text": {"field": "label"}}},
        {"data": {"name": "notesC"}, "transform": [{"filter": "datum.role === 'fC'"}], "mark": {"type": "text", "font": "Liberation Serif", "fontStyle": "italic", "fontSize": 8.5, "color": "#222", "align": "center", "baseline": "middle"}, "encoding": {"text": {"field": "label"}}},
        {"data": {"name": "notesC"}, "transform": [{"filter": "datum.role === 'kL'"}], "mark": {"type": "text", "font": "Liberation Serif", "fontSize": 11, "color": "#222", "align": "left", "baseline": "middle"}, "encoding": {"text": {"field": "label"}}},
        {"data": {"name": "barsC"}, "mark": {"type": "rule", "color": "#333", "strokeWidth": 0.8}, "encoding": {"x2": {"field": "t2"}}}
      ]
    }
  ]
}
